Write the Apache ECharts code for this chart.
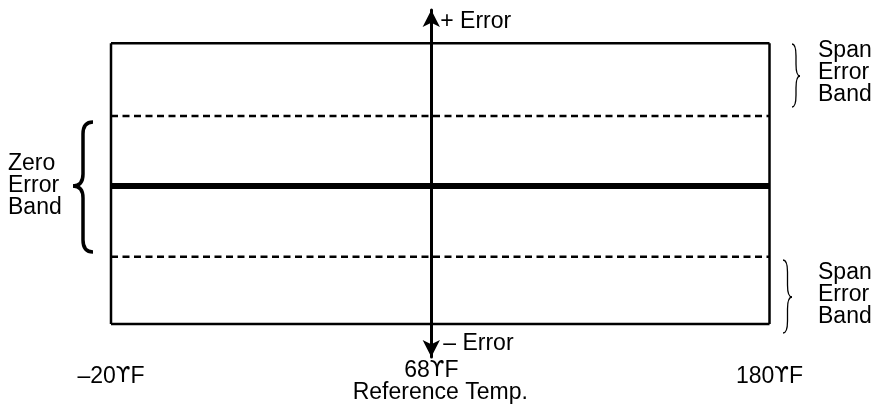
<!DOCTYPE html>
<html>
<head>
<meta charset="utf-8">
<title>Error bands</title>
<style>
  html, body { margin: 0; padding: 0; background: #fff; }
  #main { width: 875px; height: 406px; }
</style>
</head>
<body>
<div id="main"></div>
<script src="https://cdn.jsdelivr.net/npm/echarts@6/dist/echarts.min.js"></script>
<script>
// band levels (top to bottom), in error units
var bandLevels = [2.04, 1.0, 0, -1.01, -1.97];
// x extent of the band box and the reference temperature position
var xEdges = [-1, 1.056];
var refX = 0;
// temperature tick labels
var edgeTicks = [-1, 1.056];
var edgeLabels = ['–20{d|ϒ}F', '180{d|ϒ}F'];
var refTicks = [0];
var refLabels = ['68{d|ϒ}F'];

var FONT = 'Liberation Sans, Arial, Helvetica, sans-serif';
var FS = 23;
var YMIN = -2.443, YMAX = 2.514;

var chart = echarts.init(document.getElementById('main'));

var series = [];
bandLevels.forEach(function (lv, i) {
    var dashed = (i === 1 || i === 3);
    series.push({
        type: 'line',
        data: [[xEdges[0], lv], [xEdges[1], lv]],
        symbol: 'none',
        silent: true,
        animation: false,
        lineStyle: {
            color: '#000',
            width: i === 2 ? 6 : 2.5,
            type: dashed ? [7, 4.5] : 'solid'
        },
        z: 3
    });
});
xEdges.forEach(function (x) {
    series.push({
        type: 'line',
        data: [[x, bandLevels[bandLevels.length - 1]], [x, bandLevels[0]]],
        symbol: 'none',
        silent: true,
        animation: false,
        lineStyle: { color: '#000', width: 2.5 },
        z: 3
    });
});

// curly brace made of bezier pieces and straight runs
function brace(xEnd, xTip, yTop, yMid, yBot, w) {
    var xs = (xEnd + xTip) / 2;
    var r = Math.min(12, (yBot - yTop) / 5);
    var st = { fill: null, stroke: '#000', lineWidth: w };
    return {
        type: 'group',
        children: [
            { type: 'bezierCurve', shape: { x1: xEnd, y1: yTop, cpx1: xs, cpy1: yTop, x2: xs, y2: yTop + r }, style: st },
            { type: 'line', shape: { x1: xs, y1: yTop + r, x2: xs, y2: yMid - r }, style: st },
            { type: 'bezierCurve', shape: { x1: xs, y1: yMid - r, cpx1: xs, cpy1: yMid, x2: xTip, y2: yMid }, style: st },
            { type: 'bezierCurve', shape: { x1: xTip, y1: yMid, cpx1: xs, cpy1: yMid, x2: xs, y2: yMid + r }, style: st },
            { type: 'line', shape: { x1: xs, y1: yMid + r, x2: xs, y2: yBot - r }, style: st },
            { type: 'bezierCurve', shape: { x1: xs, y1: yBot - r, cpx1: xs, cpy1: yBot, x2: xEnd, y2: yBot }, style: st }
        ]
    };
}

function txt(s, x, y) {
    return {
        type: 'text', x: x, y: y,
        style: { text: s, font: FS + 'px ' + FONT, fill: '#000', lineHeight: 22, verticalAlign: 'middle', align: 'left' }
    };
}

var labelStyle = { fontFamily: FONT, fontSize: FS, color: '#000' };
var degRich = { d: { fontFamily: 'DejaVu Sans', fontSize: FS - 2, color: '#000' } };

var option = {
    animation: false,
    backgroundColor: '#fff',
    grid: { left: 111, right: 105.5, top: 10, bottom: 49, outerBoundsMode: 'none', containLabel: false },
    xAxis: [{
        type: 'value',
        min: xEdges[0],
        max: xEdges[1],
        axisLine: { show: false, onZero: false },
        axisTick: { show: false },
        splitLine: { show: false },
        axisLabel: {
            customValues: edgeTicks,
            margin: 8,
            fontFamily: FONT,
            fontSize: FS,
            color: '#000',
            rich: degRich,
            formatter: function (v) {
                var k = edgeTicks.indexOf(v);
                return k >= 0 ? edgeLabels[k] : '';
            }
        }
    }, {
        type: 'value',
        min: xEdges[0],
        max: xEdges[1],
        position: 'bottom',
        axisLine: { show: false, onZero: false },
        axisTick: { show: false },
        splitLine: { show: false },
        name: 'Reference Temp.',
        nameLocation: 'middle',
        nameGap: 24,
        nameMoveOverlap: false,
        nameTextStyle: labelStyle,
        axisLabel: {
            customValues: refTicks,
            margin: 2,
            fontFamily: FONT,
            fontSize: FS,
            color: '#000',
            rich: degRich,
            formatter: function (v) {
                var k = refTicks.indexOf(v);
                return k >= 0 ? refLabels[k] : '';
            }
        }
    }],
    yAxis: {
        type: 'value',
        min: YMIN,
        max: YMAX,
        axisLine: {
            show: true,
            onZero: true,
            symbol: ['arrow', 'arrow'],
            symbolSize: [13, 17],
            lineStyle: { color: '#000', width: 3 }
        },
        axisTick: { show: false },
        axisLabel: { show: false },
        splitLine: { show: false },
        z: 5
    },
    series: series
};
chart.setOption(option);

var pTop = chart.convertToPixel({ gridIndex: 0 }, [refX, YMAX]);
var pBot = chart.convertToPixel({ gridIndex: 0 }, [refX, YMIN]);

chart.setOption({
    graphic: [
        txt('+ Error', pTop[0] + 9, pTop[1] + 12),
        txt('– Error', pBot[0] + 12, pBot[1] - 13),
        txt('Zero\nError\nBand', 8, 186),
        txt('Span\nError\nBand', 818, 73),
        txt('Span\nError\nBand', 818, 295),
        brace(93, 73, 122, 186, 252, 3.5),
        brace(792, 800, 44, 76, 107, 1.3),
        brace(783, 792, 260, 297, 333, 1.3)
    ]
});
</script>
</body>
</html>
